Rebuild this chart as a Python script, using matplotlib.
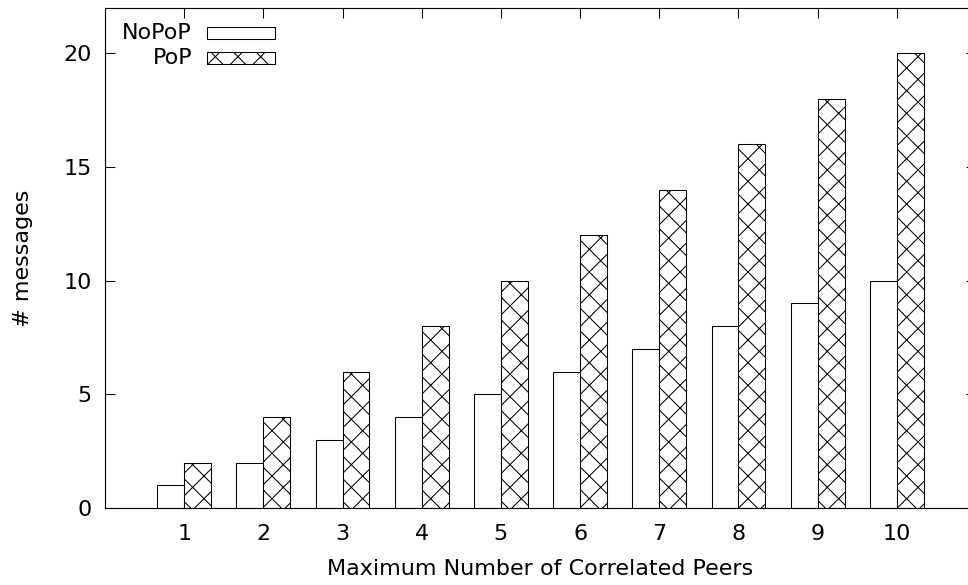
import numpy as np
import matplotlib
matplotlib.use("Agg")
import matplotlib.pyplot as plt
from matplotlib.patches import Rectangle

peers = [1, 2, 3, 4, 5, 6, 7, 8, 9, 10]
nopop = [1, 2, 3, 4, 5, 6, 7, 8, 9, 10]
pop = [2, 4, 6, 8, 10, 12, 14, 16, 18, 20]

DPI = 136
plt.rcParams['font.family'] = 'DejaVu Sans'
plt.rcParams['font.size'] = 11.8
plt.rcParams['hatch.linewidth'] = 0.55

fig = plt.figure(figsize=(968 / DPI, 585 / DPI), dpi=DPI)
ax = fig.add_axes([105 / 968, 77 / 585, 871 / 968, 500 / 585])

x = np.array(peers)
w = 0.34
ax.bar(x - w / 2, nopop, w, color='white', edgecolor='black', linewidth=0.55)
ax.bar(x + w / 2, pop, w, color='white', edgecolor='black', linewidth=0.55, hatch='xx')

ax.set_xlim(0, 11)
ax.set_ylim(0, 22)
ax.set_xticks(peers)
ax.set_yticks([0, 5, 10, 15, 20])
ax.tick_params(direction='in', length=5.3, width=0.55, top=True, right=True)
ax.tick_params(axis='x', pad=8.5)
ax.tick_params(axis='y', pad=7)
for s in ax.spines.values():
    s.set_linewidth(0.6)

ax.set_xlabel('Maximum Number of Correlated Peers', labelpad=8)
ax.set_ylabel('# messages', labelpad=16)

# gnuplot-style key: label on the left, sample box on the right
tr = ax.transAxes
ax.text(0.1, 0.95, 'NoPoP', transform=tr, ha='right', va='center')
ax.add_patch(Rectangle((0.117, 0.938), 0.078, 0.024, transform=tr,
                       facecolor='white', edgecolor='black', linewidth=0.55))
ax.text(0.1, 0.90, 'PoP', transform=tr, ha='right', va='center')
ax.add_patch(Rectangle((0.117, 0.888), 0.078, 0.024, transform=tr,
                       facecolor='white', edgecolor='black', linewidth=0.55, hatch='xx'))

fig.savefig('out.png', dpi=DPI)
